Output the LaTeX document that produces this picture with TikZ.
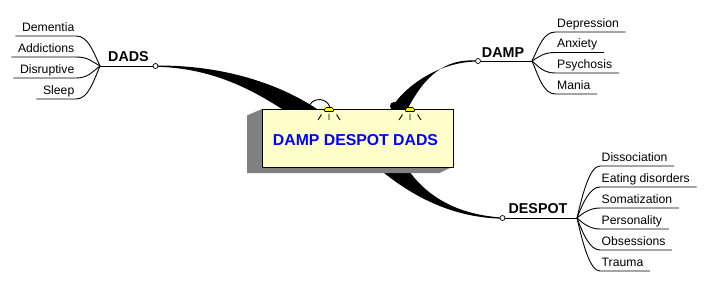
\documentclass[tikz,border=0pt]{standalone}
\usepackage{fontspec}
\setmainfont{Liberation Sans}
\definecolor{facecol}{RGB}{255,255,204}
\definecolor{sidegray}{RGB}{128,128,128}
\definecolor{lampyellow}{RGB}{255,255,0}
\definecolor{titleblue}{RGB}{0,0,255}
\begin{document}
\begin{tikzpicture}[x=1pt,y=-1pt,
  conn/.style={line width=0.9pt, black},
  leaf/.style={font=\fontsize{12.2}{14}\selectfont, inner xsep=1.5pt, inner ysep=1.5pt, text height=9pt, text depth=3pt},
  leafL/.style={leaf, anchor=south east},
  leafR/.style={leaf, anchor=south west},
  branch/.style={font=\fontsize{14.3}{16}\selectfont\bfseries, anchor=base, inner sep=0pt},
  knob/.style={circle, draw=black, fill=white, line width=0.7pt, minimum size=5pt, inner sep=0pt},
  face/.style={fill=facecol, draw=black, line width=0.9pt, minimum width=191pt, minimum height=57.5pt, anchor=north west, inner sep=0pt},
  title/.style={font=\fontsize{15.8}{18}\selectfont\bfseries, text=titleblue, anchor=base, inner sep=0pt},
  lamp/.pic={
    \draw[fill=lampyellow, line width=0.6pt, rounded corners=1pt] (-5,2.5) -- (-3.5,-1.5) -- (3.5,-1.5) -- (5,2.5) -- cycle;
    \draw[line width=0.9pt] (0,4.5) -- (0,11) (-11,11) -- (-7.5,5.5) (7.5,5.5) -- (11,11);
  }
]
\useasboundingbox (0,0) rectangle (708,292);

% tapered arms running from the branch knobs to the central block
\fill (157,65.6) .. controls (215,65) and (275,80) .. (320,111) -- (285,111) .. controls (250,88) and (210,68) .. (157,66.8) -- cycle;
\draw[line width=0.9pt] (310,104.5) .. controls (314,97.5) and (327,97.5) .. (330,107.5);
\fill (476,60.4) .. controls (445,59) and (425,75) .. (407,110) -- (390,110) .. controls (405,85) and (440,62) .. (476,61.6) -- cycle;
\fill (394,106) circle (4);
\fill (407,168) .. controls (425,195) and (455,214) .. (500,217.4) -- (500,218.6) .. controls (450,217) and (410,195) .. (378,168) -- cycle;

% central block with its shaded sides
\fill[sidegray] (262,109) -- (247,115.5) -- (247,173) -- (439.5,173) -- (453,166.5) -- (262,166.5) -- cycle;
\node[face] (core) at (262,109) {};
\node[title] (coretext) at (355.5,145) {DAMP DESPOT DADS};
\pic at (329,109) {lamp};
\pic at (410,109) {lamp};

% DADS branch
\coordinate (hubL) at (100,66);
\node[knob] (kL) at (155.5,66) {};
\draw[conn] (hubL) -- (kL);
\node[branch] (lDADS) at (128.5,61) {DADS};
\node[leafL] (dem) at (76,36) {Dementia};
\node[leafL] (add) at (76,57) {Addictions};
\node[leafL] (dis) at (76,78) {Disruptive};
\node[leafL] (slp) at (76,99) {Sleep};
\draw[conn] ([xshift=-5pt]dem.south west) -- (dem.south east) .. controls +(12,0) and +(-7,-15) .. (hubL);
\draw[conn] ([xshift=-5pt]add.south west) -- (add.south east) .. controls +(12,0) and +(-8,-4.5) .. (hubL);
\draw[conn] ([xshift=-5pt]dis.south west) -- (dis.south east) .. controls +(12,0) and +(-8,6) .. (hubL);
\draw[conn] ([xshift=-5pt]slp.south west) -- (slp.south east) .. controls +(12,0) and +(-7,16.5) .. (hubL);

% DAMP branch
\coordinate (hubR) at (532,61);
\node[knob] (kR) at (478,61) {};
\draw[conn] (kR) -- (hubR);
\node[branch] (lDAMP) at (503,57.3) {DAMP};
\node[leafR] (dep) at (555.5,32) {Depression};
\node[leafR] (anx) at (555.5,52.5) {Anxiety};
\node[leafR] (psy) at (555.5,73) {Psychosis};
\node[leafR] (man) at (555.5,94) {Mania};
\draw[conn] (hubR) .. controls +(7,-14.5) and +(-12,0) .. (dep.south west) -- ([xshift=5pt]dep.south east);
\draw[conn] (hubR) .. controls +(7,-4.3) and +(-12,0) .. (anx.south west) -- ([xshift=5pt]anx.south east);
\draw[conn] (hubR) .. controls +(7,6) and +(-12,0) .. (psy.south west) -- ([xshift=5pt]psy.south east);
\draw[conn] (hubR) .. controls +(7,16.5) and +(-12,0) .. (man.south west) -- ([xshift=5pt]man.south east);

% DESPOT branch
\coordinate (hubD) at (577,218);
\node[knob] (kD) at (502.5,218) {};
\draw[conn] (kD) -- (hubD);
\node[branch] (lDESPOT) at (538,213.5) {DESPOT};
\node[leafR] (dso) at (600,166) {Dissociation};
\node[leafR] (eat) at (600,187) {Eating disorders};
\node[leafR] (som) at (600,208) {Somatization};
\node[leafR] (per) at (600,229) {Personality};
\node[leafR] (obs) at (600,250) {Obsessions};
\node[leafR] (tra) at (600,271) {Trauma};
\draw[conn] (hubD) .. controls +(6,-26) and +(-10,0) .. (dso.south west) -- ([xshift=5pt]dso.south east);
\draw[conn] (hubD) .. controls +(6,-15.5) and +(-10,0) .. (eat.south west) -- ([xshift=5pt]eat.south east);
\draw[conn] (hubD) .. controls +(6,-5) and +(-10,0) .. (som.south west) -- ([xshift=5pt]som.south east);
\draw[conn] (hubD) .. controls +(6,5.5) and +(-10,0) .. (per.south west) -- ([xshift=5pt]per.south east);
\draw[conn] (hubD) .. controls +(6,16) and +(-10,0) .. (obs.south west) -- ([xshift=5pt]obs.south east);
\draw[conn] (hubD) .. controls +(6,26.5) and +(-10,0) .. (tra.south west) -- ([xshift=5pt]tra.south east);
\end{tikzpicture}
\end{document}
